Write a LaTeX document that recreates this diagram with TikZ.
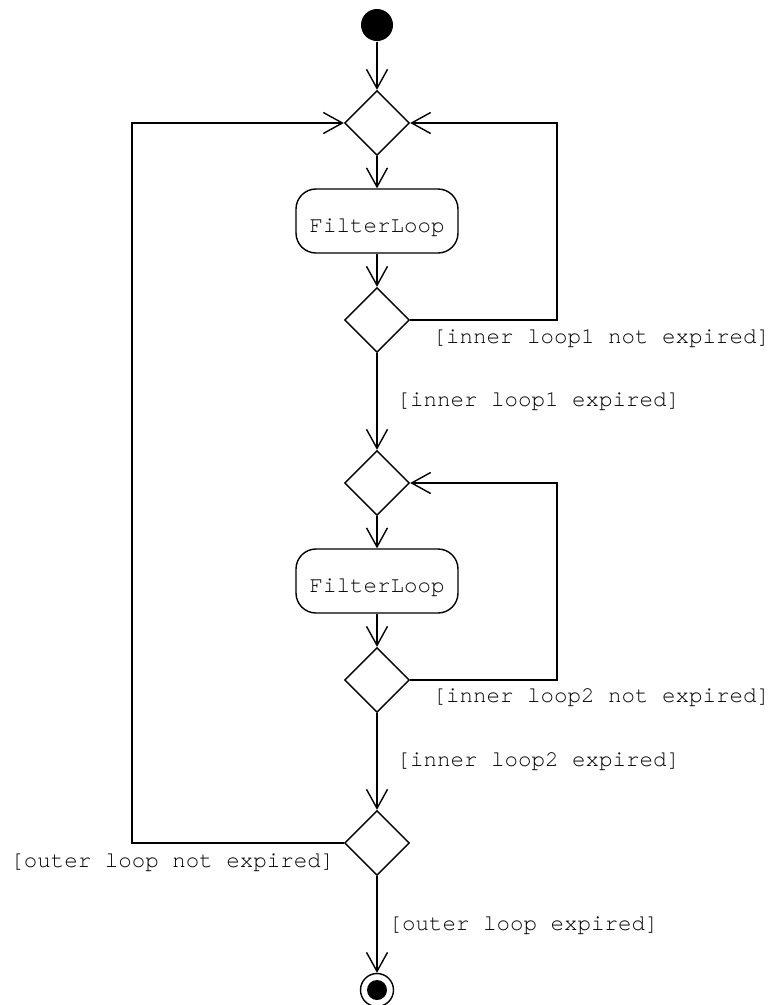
\documentclass[tikz,border=0pt]{standalone}
\usepackage{fontspec}
\setmonofont{texgyrecursor-regular.otf}
\usetikzlibrary{shapes.geometric,arrows.meta}
\begin{document}
\begin{tikzpicture}[x=1pt,y=-1pt,
  line width=1.4pt,
  flow/.style={-{Straight Barb[length=19pt,width=21pt,line width=1.4pt]}},
  dec/.style={draw,diamond,aspect=1,inner sep=0pt,minimum width=65pt,minimum height=65pt},
  act/.style={draw,rounded corners=20pt,minimum width=162pt,minimum height=64pt,inner sep=0pt,text height=22pt,text depth=0pt,font=\ttfamily\fontsize{22.5}{26}\selectfont},
  lbl/.style={font=\ttfamily\fontsize{22.5}{26}\selectfont,inner sep=0pt}]
\useasboundingbox (0,0) rectangle (772,1005);
\node[circle,fill=black,minimum size=32pt,inner sep=0pt] (s) at (377,25) {};
\node[dec] (d1) at (377,123) {};
\node[act] (a1) at (377,221) {FilterLoop};
\node[dec] (d2) at (377,320) {};
\node[dec] (d3) at (377,483) {};
\node[act] (a2) at (377,581) {FilterLoop};
\node[dec] (d4) at (377,680) {};
\node[dec] (d5) at (377,843) {};
\node[circle,draw,minimum size=33pt,inner sep=0pt] (e) at (377,990) {};
\node[circle,fill=black,minimum size=20pt,inner sep=0pt] (ei) at (377,990) {};
\coordinate (R) at (557,0);
\coordinate (L) at (132,0);
\draw[flow] (s) -- (d1);
\draw[flow] (d1) -- (a1);
\draw[flow] (a1) -- (d2);
\draw[flow] (d2.east) -- (d2.east -| R) |- (d1.east);
\draw[flow] (d2) -- (d3);
\draw[flow] (d3) -- (a2);
\draw[flow] (a2) -- (d4);
\draw[flow] (d4.east) -- (d4.east -| R) |- (d3.east);
\draw[flow] (d4) -- (d5);
\draw[flow] (d5.west) -- (d5.west -| L) |- (d1.west);
\draw[flow] (d5) -- (e);
\node[lbl,anchor=base west] (l1) at (432,343) {[inner loop1 not expired]};
\node[lbl,anchor=base west] (l2) at (396,406) {[inner loop1 expired]};
\node[lbl,anchor=base west] (l3) at (432,702) {[inner loop2 not expired]};
\node[lbl,anchor=base west] (l4) at (396,766) {[inner loop2 expired]};
\node[lbl,anchor=base east] (l5) at (335,867) {[outer loop not expired]};
\node[lbl,anchor=base west] (l6) at (388,930) {[outer loop expired]};
\end{tikzpicture}
\end{document}
